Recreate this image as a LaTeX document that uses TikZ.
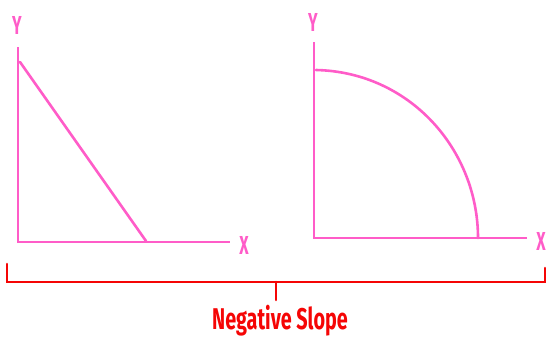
\documentclass[tikz,border=0pt]{standalone}
\usepackage{fontspec}
\usepackage{graphicx}
\setmainfont{Fira Sans}
\definecolor{axispink}{RGB}{255,92,200}
\definecolor{bracered}{RGB}{245,5,5}
\begin{document}
\begin{tikzpicture}[x=1pt,y=-1pt,line cap=round]
\useasboundingbox (0,0) rectangle (548,338);
\tikzset{
  axisline/.style={draw=axispink, line width=2.6pt},
  axislabel/.style={text=axispink, inner sep=0pt, font=\fontsize{26}{26}\bfseries\selectfont},
  braceline/.style={draw=bracered, line width=2.6pt}
}
% left plot: straight line
\coordinate (lo) at (18,242);
\coordinate (ltop) at (18,47);
\coordinate (lend) at (230,242);
\node[axislabel] (ly) at (17,25) {\scalebox{0.62}[1]{Y}};
\node[axislabel] (lx) at (244,245) {\scalebox{0.62}[1]{X}};
\draw[axisline, line cap=butt] (ltop) -- (lo) -- (lend);
\draw[axisline] (20,62) -- (146,241);

% right plot: bowed curve
\coordinate (ro) at (314,238);
\coordinate (rtop) at (314,42);
\coordinate (rend) at (527,238);
\node[axislabel] (ry) at (313,22) {\scalebox{0.62}[1]{Y}};
\node[axislabel] (rx) at (541,241) {\scalebox{0.62}[1]{X}};
\draw[axisline, line cap=butt] (rtop) -- (ro) -- (rend);
\draw[axisline] (316,70) .. controls (410,72) and (478,150) .. (478,238);

% bracket under both plots
\coordinate (bl) at (7,264);
\coordinate (br) at (545,268);
\coordinate (bmid) at (276,282);
\draw[braceline] (bl) |- (bmid) -| (br);
\node[text=bracered, inner sep=0pt, anchor=base, font=\fontsize{30}{30}\bfseries\selectfont] (label) at (280,329) {\scalebox{0.66}[1]{Negative Slope}};
\draw[braceline] (bmid) -- (276,300);
\end{tikzpicture}
\end{document}
